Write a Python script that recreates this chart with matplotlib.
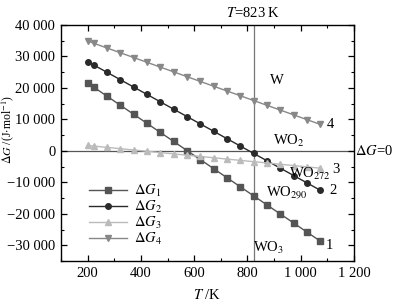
import matplotlib
matplotlib.use("Agg")
import matplotlib.pyplot as plt
from matplotlib.ticker import MultipleLocator, FuncFormatter

plt.rcParams['font.family'] = ['Liberation Serif', 'DejaVu Serif']
plt.rcParams['mathtext.fontset'] = 'stix'

T = [200, 223, 273, 323, 373, 423, 473, 523, 573, 623, 673, 723, 773, 823, 873, 923, 973, 1023, 1073]
dG1 = [21570, 20250, 17370, 14490, 11610, 8730, 5850, 2980, 100, -2780, -5660, -8540, -11420, -14300,
       -17180, -20050, -22930, -25810, -28690]
dG2 = [28370, 27290, 24950, 22610, 20270, 17930, 15580, 13240, 10900, 8560, 6220, 3870, 1530, -810,
       -3150, -5500, -7840, -10180, -12520]
dG3 = [1700, 1510, 1100, 690, 270, -140, -550, -970, -1380, -1790, -2200, -2620, -3030, -3440,
       -3850, -4270, -4680, -5090, -5500]
dG4 = [34900, 34200, 32680, 31170, 29650, 28130, 26610, 25100, 23580, 22060, 20540, 19030, 17510, 15990,
       14470, 12960, 11440, 9920, 8400]
labels = [r'$\Delta G_1$', r'$\Delta G_2$', r'$\Delta G_3$', r'$\Delta G_4$']

fig = plt.figure(figsize=(3.93, 3.01), dpi=100)
ax = fig.add_axes([0.155, 0.133, 0.746, 0.784])

ax.axhline(0, color='#555555', lw=0.9, zorder=1)
ax.axvline(823, color='#777777', lw=0.9, zorder=1)

ax.plot(T, dG1, color='#555555', marker='s', ms=4, lw=1.0, label=labels[0])
ax.plot(T, dG2, color='#2a2a2a', marker='o', ms=4, lw=1.0, label=labels[1])
ax.plot(T, dG3, color='#bbbbbb', marker='^', ms=4, lw=1.0, label=labels[2])
ax.plot(T, dG4, color='#888888', marker='v', ms=4, lw=1.0, label=labels[3])

ax.set_xlim(100, 1200)
ax.set_ylim(-35000, 40000)
ax.xaxis.set_major_locator(MultipleLocator(200))
ax.xaxis.set_minor_locator(MultipleLocator(100))
ax.yaxis.set_major_locator(MultipleLocator(10000))
ax.yaxis.set_minor_locator(MultipleLocator(5000))

def fmt(v, pos):
    v = int(round(v))
    s = f"{abs(v):,}".replace(",", " ")
    return ("\u2212" + s) if v < 0 else s
ax.xaxis.set_major_formatter(FuncFormatter(fmt))
ax.yaxis.set_major_formatter(FuncFormatter(fmt))

ax.tick_params(which='both', direction='in', top=True, right=True, labelsize=10.5, pad=4)
ax.tick_params(which='major', length=4, width=0.9)
ax.tick_params(which='minor', length=2, width=0.8)
for s in ax.spines.values():
    s.set_linewidth(1.0)

ax.set_xlabel(r'$T$ /K', fontsize=10.5, labelpad=6)
ax.set_ylabel(r'$\Delta G$ /(J$\cdot$mol$^{-1}$)', fontsize=8.5)
ax.yaxis.set_label_coords(-0.153, 0.555)

ax.text(823, 41500, r'$T$=823 K', ha='center', va='bottom', fontsize=10.5)
ax.text(1203, 0, r'$\Delta G$=0', ha='left', va='center', fontsize=10.5, clip_on=False)

fs = 10.5
ax.text(910, 22500, 'W', ha='center', va='center', fontsize=fs)
ax.text(1098, 8500, '4', ha='left', va='center', fontsize=fs)
ax.text(955, 3000, r'WO$_2$', ha='center', va='center', fontsize=fs)
ax.text(1118, -6000, '3', ha='left', va='center', fontsize=fs)
ax.text(1036, -7200, r'WO$_{272}$', ha='center', va='center', fontsize=fs)
ax.text(1108, -12600, '2', ha='left', va='center', fontsize=fs)
ax.text(948, -13200, r'WO$_{290}$', ha='center', va='center', fontsize=fs)
ax.text(1095, -30200, '1', ha='left', va='center', fontsize=fs)
ax.text(877, -31000, r'WO$_3$', ha='center', va='center', fontsize=fs)

ax.legend(loc='upper left', bbox_to_anchor=(0.06, 0.375), frameon=False, fontsize=10.5,
          handlelength=2.6, labelspacing=0.0, handletextpad=0.5, borderpad=0.2)

fig.savefig('out.png', dpi=100)
